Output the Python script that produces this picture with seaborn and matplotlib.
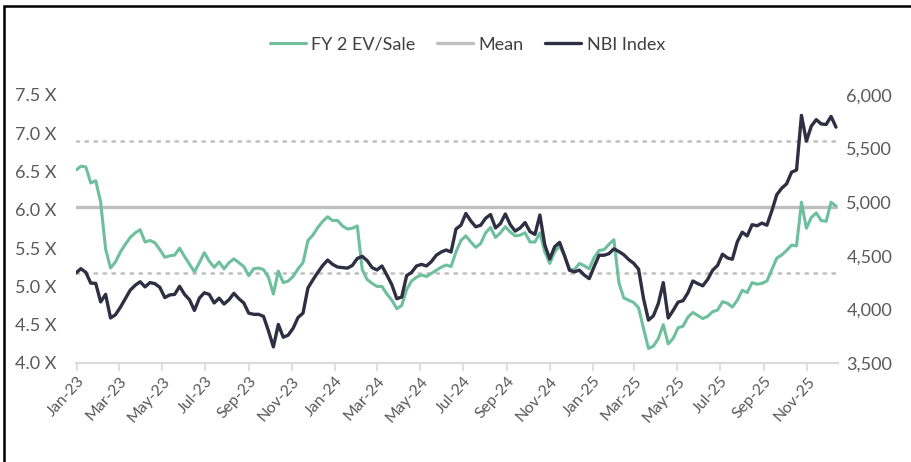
import matplotlib
matplotlib.use("Agg")
import matplotlib.pyplot as plt
import matplotlib.dates as mdates
from matplotlib.patches import Rectangle
from matplotlib.ticker import FuncFormatter, MultipleLocator
import pandas as pd
import seaborn as sns

# ---- data (weekly) ----
dates = pd.date_range("2022-12-30", periods=155, freq="7D")

ev_sale = [
    6.52, 6.57, 6.56, 6.35, 6.38, 6.10, 5.49, 5.24, 5.32, 5.45,
    5.55, 5.64, 5.70, 5.74, 5.58, 5.60, 5.57, 5.48, 5.38, 5.40,
    5.41, 5.50, 5.39, 5.29, 5.19, 5.31, 5.44, 5.33, 5.25, 5.32,
    5.23, 5.31, 5.36, 5.31, 5.26, 5.14, 5.23, 5.24, 5.22, 5.12,
    4.90, 5.20, 5.05, 5.07, 5.13, 5.23, 5.31, 5.60, 5.67, 5.77,
    5.85, 5.91, 5.86, 5.86, 5.79, 5.75, 5.76, 5.79, 5.22, 5.09,
    5.04, 5.00, 5.00, 4.90, 4.82, 4.71, 4.75, 4.96, 5.07, 5.12,
    5.15, 5.13, 5.17, 5.21, 5.25, 5.28, 5.26, 5.45, 5.60, 5.66,
    5.58, 5.51, 5.56, 5.70, 5.77, 5.64, 5.70, 5.78, 5.71, 5.66,
    5.67, 5.70, 5.58, 5.58, 5.70, 5.45, 5.30, 5.45, 5.53, 5.40,
    5.22, 5.22, 5.30, 5.27, 5.23, 5.38, 5.47, 5.48, 5.55, 5.61,
    5.05, 4.85, 4.82, 4.79, 4.72, 4.45, 4.19, 4.22, 4.32, 4.50,
    4.25, 4.32, 4.46, 4.48, 4.60, 4.66, 4.62, 4.58, 4.61, 4.67,
    4.69, 4.80, 4.78, 4.73, 4.82, 4.95, 4.92, 5.05, 5.03, 5.04,
    5.07, 5.22, 5.37, 5.41, 5.47, 5.54, 5.53, 6.10, 5.76, 5.90,
    5.96, 5.86, 5.85, 6.10, 6.05,
]

nbi_index = [
    4340, 4380, 4345, 4245, 4243, 4070, 4140, 3920, 3950, 4020,
    4100, 4180, 4225, 4258, 4210, 4250, 4240, 4205, 4110, 4135,
    4140, 4215, 4140, 4090, 3990, 4105, 4155, 4140, 4060, 4105,
    4050, 4090, 4150, 4100, 4060, 3965, 3954, 3954, 3935, 3800,
    3650, 3860, 3740, 3760, 3824, 3925, 3965, 4200, 4275, 4345,
    4410, 4460, 4420, 4395, 4390, 4385, 4410, 4475, 4495, 4455,
    4390, 4368, 4405, 4320, 4230, 4100, 4115, 4315, 4345, 4405,
    4420, 4405, 4445, 4505, 4535, 4554, 4535, 4750, 4785, 4895,
    4825, 4770, 4785, 4850, 4885, 4760, 4800, 4890, 4790, 4730,
    4760, 4810, 4725, 4700, 4880, 4600, 4470, 4585, 4625, 4500,
    4365, 4350, 4366, 4320, 4287, 4400, 4505, 4505, 4520, 4565,
    4540, 4510, 4465, 4430, 4375, 4100, 3900, 3940, 4055, 4250,
    3920, 3990, 4068, 4081, 4155, 4265, 4240, 4220, 4280, 4365,
    4410, 4515, 4480, 4468, 4630, 4720, 4685, 4790, 4780, 4805,
    4785, 4920, 5070, 5130, 5172, 5280, 5300, 5810, 5570, 5710,
    5770, 5730, 5725, 5800, 5700,
]

mean_val = 6.04
plus_sd = 6.90
minus_sd = 5.18

df = pd.DataFrame({"date": dates, "ev_sale": ev_sale, "nbi": nbi_index})

green = "#6dbf9e"
navy = "#2f2e42"
grey = "#bfbfbf"
txt = "#595959"

sns.set_style("white")
plt.rcParams['font.family'] = ['Lato', 'DejaVu Sans']

fig = plt.figure(figsize=(9.11, 4.62), dpi=100)
ax = fig.add_axes([0.0834, 0.2143, 0.8366, 0.5801])
ax2 = ax.twinx()

# mean and +/- 1 sd bands
ax.axhline(mean_val, color=grey, lw=2.4, label="Mean", zorder=1)
ax.axhline(plus_sd, color=grey, lw=1.8, ls=(0, (1, 2.6)), dash_capstyle="round", zorder=1)
ax.axhline(minus_sd, color=grey, lw=1.8, ls=(0, (1, 2.6)), dash_capstyle="round", zorder=1)

sns.lineplot(data=df, x="date", y="ev_sale", ax=ax, color=green, lw=2.2, label="FY 2 EV/Sale", zorder=2)
sns.lineplot(data=df, x="date", y="nbi", ax=ax2, color=navy, lw=2.4, label="NBI Index", zorder=3)

ax.set_ylim(4.0, 7.5)
ax2.set_ylim(3500, 6000)
ax.yaxis.set_major_locator(MultipleLocator(0.5))
ax2.yaxis.set_major_locator(MultipleLocator(500))
ax.yaxis.set_major_formatter(FuncFormatter(lambda v, p: f"{v:.1f} X"))
ax2.yaxis.set_major_formatter(FuncFormatter(lambda v, p: f"{v:,.0f}"))
ax.set_xlim(dates[0], dates[-1] + pd.Timedelta(days=3))

ax.xaxis.set_major_locator(mdates.MonthLocator(bymonth=[1, 3, 5, 7, 9, 11]))
ax.xaxis.set_major_formatter(mdates.DateFormatter("%b-%y"))

for a in (ax, ax2):
    a.set_xlabel("")
    a.set_ylabel("")
    for s in a.spines.values():
        s.set_visible(False)
ax.spines["bottom"].set_visible(True)
ax.spines["bottom"].set_color("#d9d9d9")
ax.spines["bottom"].set_linewidth(1.5)

ax.tick_params(axis="x", bottom=True, length=6, width=1.2, color="#d9d9d9",
               labelsize=11.5, labelcolor=txt, pad=2)
ax.tick_params(axis="y", length=0, labelsize=13, labelcolor=txt, pad=14)
ax2.tick_params(axis="y", length=0, labelsize=13, labelcolor=txt, pad=6)
for lbl in ax.get_xticklabels():
    lbl.set_rotation(48)
    lbl.set_ha("right")
    lbl.set_rotation_mode("anchor")

# legend on top
h1, l1 = ax.get_legend_handles_labels()
h2, l2 = ax2.get_legend_handles_labels()
handles = dict(zip(l1 + l2, h1 + h2))
order = ["FY 2 EV/Sale", "Mean", "NBI Index"]
for a in (ax, ax2):
    if a.get_legend():
        a.get_legend().remove()
fig.legend([handles[k] for k in order], order, loc="center", bbox_to_anchor=(0.513, 0.903),
           ncol=3, frameon=False, fontsize=13, labelcolor="#404040",
           handlelength=2.0, handletextpad=0.3, columnspacing=1.2)

# partial frame of the pasted chart
fig.add_artist(Rectangle((4 / 911, -0.1), 1.2, 1.1 - 6 / 462, transform=fig.transFigure,
                         fill=False, edgecolor="black", lw=1.8))

fig.savefig("out.png", dpi=100, facecolor="white")
